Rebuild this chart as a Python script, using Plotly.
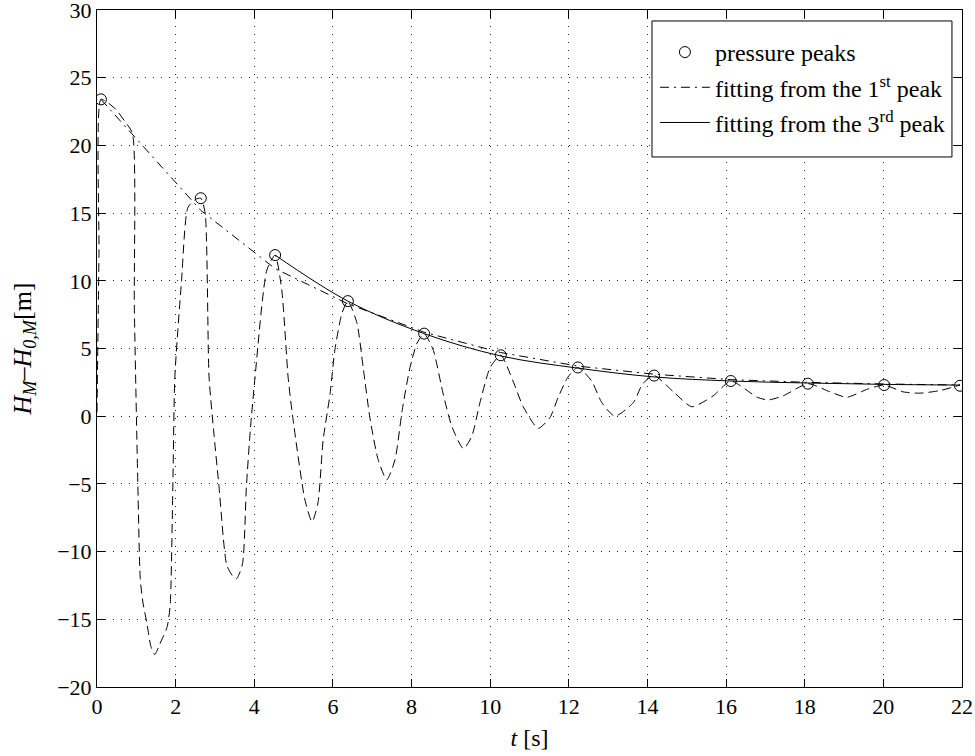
import plotly.graph_objects as go

# measured pressure signal (dashed)
t_signal = [0, 0.05, 0.1, 0.3, 0.5, 0.7, 0.9, 0.95, 1.04, 1.1, 1.17, 1.27, 1.37, 1.47, 1.6, 1.78, 1.86, 1.93,
            1.98, 2.15, 2.31, 2.5, 2.64, 2.75, 2.85, 2.98, 3.1, 3.3, 3.45, 3.55, 3.7, 3.8, 3.9, 4.02, 4.32, 4.53,
            4.7, 4.86, 4.98, 5.29, 5.47, 5.62, 5.75, 5.93, 6.05, 6.23, 6.38, 6.61, 6.77, 6.94, 7.15, 7.37, 7.58,
            7.76, 7.96, 8.14, 8.32, 8.55, 8.8, 9.03, 9.32, 9.53, 9.74, 10.0, 10.27, 10.58, 10.84, 11.22, 11.52,
            11.73, 11.98, 12.23, 12.58, 12.84, 13.17, 13.64, 13.88, 14.17, 14.66, 15.13, 15.67, 16.12, 16.79,
            17.07, 17.45, 18.08, 18.64, 19.07, 19.6, 20.02, 20.5, 20.93, 21.45, 21.95]
h_signal = [0.3, 12, 23.4, 23.1, 22.6, 21.8, 20.9, 8, -5.2, -12, -13.8, -15.3, -17.0, -17.6, -16.8, -15.6, -14.0, -5.0,
            2.9, 10, 15.4, 16.0, 16.1, 15.0, 2.9, -1.5, -5.1, -11.0, -11.8, -12.0, -10.9, -5.2, -1.0, 2.9, 10.8, 11.9,
            9.3, 2.9, -0.1, -6.2, -7.8, -6.4, -1.8, 1.7, 4.9, 7.6, 8.5, 6.9, 3.6, -0.1, -3.2, -4.7, -3.2,
            0.4, 3.6, 5.4, 6.1, 4.9, 1.7, -0.8, -2.4, -1.5, 1.0, 3.6, 4.5, 2.6, 0.7, -0.9, -0.1,
            1.4, 2.9, 3.6, 2.6, 1.0, 0.0, 1.0, 2.4, 3.0, 1.8, 0.7, 1.5, 2.6, 1.4,
            1.2, 1.5, 2.4, 1.8, 1.4, 2.0, 2.3, 1.8, 1.7, 1.9, 2.3]

# pressure peaks
t_peaks = [0.1, 2.64, 4.53, 6.38, 8.32, 10.27, 12.23, 14.17, 16.12, 18.08, 20.02, 21.95]
h_peaks = [23.4, 16.1, 11.9, 8.5, 6.1, 4.5, 3.6, 3.0, 2.6, 2.4, 2.3, 2.25]

# fitting from the 1st peak
t_fit1 = [0.1, 2.64, 4.53, 6.38, 8.32, 10.27, 12.23, 14.17, 16.12, 18.08, 20.02, 21.95]
h_fit1 = [23.4, 15.2, 10.9, 8.3, 6.2, 4.7, 3.7, 3.1, 2.7, 2.5, 2.38, 2.3]

# fitting from the 3rd peak
t_fit3 = [4.53, 6.38, 8.32, 10.27, 12.23, 14.17, 16.12, 18.08, 20.02, 21.95]
h_fit3 = [11.9, 8.5, 6.1, 4.45, 3.55, 2.9, 2.6, 2.45, 2.35, 2.3]

x_ticks = list(range(0, 23, 2))
y_ticks = list(range(-20, 31, 5))

FONT = "Liberation Serif, Times New Roman, Times, serif"

fig = go.Figure()
fig.add_trace(go.Scatter(x=t_signal, y=h_signal, mode="lines", showlegend=False,
                         line=dict(color="black", width=1, dash="9px,5px", shape="spline", smoothing=0.6)))
fig.add_trace(go.Scatter(x=t_peaks, y=h_peaks, mode="markers", name="pressure peaks", legendgroup="a",
                         marker=dict(symbol="circle-open", size=11, color="black", line=dict(width=1))))
fig.add_trace(go.Scatter(x=t_fit1, y=h_fit1, mode="lines", name="fitting from the 1<sup>st</sup> peak",
                         legendgroup="b",
                         line=dict(color="black", width=1, dash="9px,5px,2px,5px")))
fig.add_trace(go.Scatter(x=t_fit3, y=h_fit3, mode="lines", name="fitting from the 3<sup>rd</sup> peak",
                         legendgroup="c",
                         line=dict(color="black", width=1, shape="spline")))

axis_common = dict(showline=True, linecolor="black", linewidth=1, mirror="allticks", ticks="inside",
                   ticklen=8, tickcolor="black", showgrid=True, gridcolor="#222222", gridwidth=1,
                   griddash="1px,7px", zeroline=False, automargin=False, ticklabeloverflow="allow",
                   tickfont=dict(family=FONT, size=22, color="black"))

fig.update_xaxes(range=[0, 22], tickvals=x_ticks, ticktext=[str(v) for v in x_ticks],
                 title=dict(text="<i>t</i> [s]", font=dict(family=FONT, size=24, color="black"), standoff=10),
                 **axis_common)
fig.update_yaxes(range=[-20, 30], tickvals=y_ticks, ticktext=[str(v) if v >= 0 else "\u2212" + str(-v) for v in y_ticks],
                 title=dict(text="\u00a0\u00a0\u00a0<i>H</i><sub><i>M</i></sub>\u2013<i>H</i><sub><i>0,M</i></sub>[m]",
                            font=dict(family=FONT, size=26, color="black"), standoff=18),
                 **axis_common)

# legend frame (MATLAB-style box with generous padding)
fig.add_shape(type="rect", xref="paper", yref="paper", x0=0.6416, x1=0.9884, y0=0.7829, y1=0.9838,
              line=dict(color="black", width=1), fillcolor="white", layer="above")

fig.update_layout(width=975, height=756, margin=dict(l=97, r=13, t=10, b=69),
                  paper_bgcolor="white", plot_bgcolor="white",
                  font=dict(family=FONT, color="black"),
                  legend=dict(x=0.645, y=0.9705, xanchor="left", yanchor="top", bgcolor="rgba(0,0,0,0)",
                              borderwidth=0, traceorder="grouped", tracegroupgap=1, itemwidth=50,
                              font=dict(family=FONT, size=24, color="black")))

fig.write_html("out.html", config={"displayModeBar": False},
               post_script="document.body.style.margin='0';")
